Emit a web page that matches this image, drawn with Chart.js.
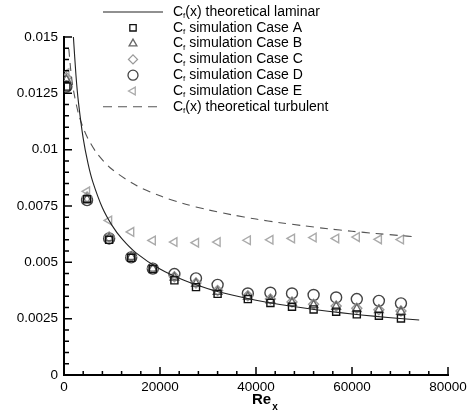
<!DOCTYPE html>
<html>
<head>
<meta charset="utf-8">
<script src="https://cdn.jsdelivr.net/npm/chart.js@4/dist/chart.umd.min.js"></script>
<style>
  html, body { margin: 0; padding: 0; background: #fff; }
  #wrap { width: 473px; height: 414px; position: relative; }
</style>
</head>
<body>
<div id="wrap"><canvas id="myChart" width="473" height="414"></canvas></div>
<script>
// data
var reCases = [500, 4800, 9400, 14000, 18500, 23000, 27500, 32000, 38300, 43000, 47500, 52000, 56700, 61000, 65600, 70200];
var caseA = [0.0128, 0.0078, 0.0060, 0.0052, 0.0047, 0.0042, 0.0039, 0.0036, 0.00337, 0.0032, 0.00303, 0.00291, 0.00281, 0.00269, 0.00263, 0.00251];
var caseB = [0.0131, 0.0078, 0.00607, 0.00524, 0.00472, 0.00432, 0.00405, 0.00369, 0.00347, 0.00332, 0.0032, 0.0031, 0.00303, 0.00293, 0.00288, 0.00281];
var caseC = [0.0132, 0.0079, 0.00612, 0.00526, 0.00474, 0.00436, 0.00408, 0.00375, 0.00352, 0.00337, 0.00324, 0.00314, 0.00306, 0.00296, 0.0029, 0.00284];
var caseD = [0.0128, 0.00776, 0.00606, 0.00522, 0.00472, 0.00448, 0.00429, 0.0040, 0.00362, 0.00365, 0.00362, 0.00355, 0.00344, 0.00337, 0.00329, 0.00318];
var caseE = [0.0134, 0.00815, 0.00686, 0.00635, 0.00597, 0.0059, 0.00587, 0.0059, 0.00598, 0.006, 0.00606, 0.0061, 0.00606, 0.00612, 0.00602, 0.00601];

var reLam = [1960, 2500, 3000, 4000, 5000, 6000, 8000, 10000, 12000, 15000, 20000, 25000, 30000, 35000, 40000, 45000, 50000, 55000, 60000, 65000, 70000, 74000];
var cfLam = [0.015, 0.01328, 0.01212, 0.0105, 0.00939, 0.00857, 0.00742, 0.00664, 0.00606, 0.00542, 0.0047, 0.0042, 0.00383, 0.00355, 0.00332, 0.00313, 0.00297, 0.00283, 0.00271, 0.0026, 0.00251, 0.00244];
var reTurb = [1000, 1500, 2000, 3000, 4000, 5000, 7000, 10000, 15000, 20000, 25000, 30000, 35000, 40000, 45000, 50000, 55000, 60000, 65000, 70000, 73000];
var cfTurb = [0.01447, 0.01334, 0.0126, 0.01161, 0.01097, 0.01049, 0.0098, 0.00913, 0.00842, 0.00795, 0.0076, 0.00733, 0.00711, 0.00692, 0.00676, 0.00662, 0.00649, 0.00638, 0.00628, 0.00619, 0.00614];

var xTicks = [0, 20000, 40000, 60000, 80000];
var yTicks = [0, 0.0025, 0.005, 0.0075, 0.01, 0.0125, 0.015];

function pts(xs, ys) {
  var out = [];
  for (var i = 0; i < xs.length; i++) out.push({x: xs[i], y: ys[i]});
  return out;
}

var FONT = "'Liberation Sans', Arial, Helvetica, sans-serif";

var markerSets = [
  {label: 'A', data: caseA, style: 'rect', color: '#111', radius: 5, rot: 0},
  {label: 'B', data: caseB, style: 'triangle', color: '#666', radius: 5, rot: 0},
  {label: 'C', data: caseC, style: 'rectRot', color: '#999', radius: 5, rot: 0},
  {label: 'D', data: caseD, style: 'circle', color: '#444', radius: 5.5, rot: 0},
  {label: 'E', data: caseE, style: 'triangle', color: '#aaa', radius: 5, rot: -90}
];

var datasets = [
  {label: 'laminar', data: pts(reLam, cfLam), showLine: true, borderColor: '#222', borderWidth: 1.1, pointRadius: 0, fill: false, tension: 0.3},
  {label: 'turbulent', data: pts(reTurb, cfTurb), showLine: true, borderColor: '#555', borderWidth: 1.1, borderDash: [8, 6], pointRadius: 0, fill: false, tension: 0.3}
];
markerSets.forEach(function (m) {
  datasets.push({
    label: m.label, data: pts(reCases, m.data), showLine: false,
    pointStyle: m.style, pointRadius: m.radius, pointRotation: m.rot,
    pointBorderColor: m.color, pointBackgroundColor: 'rgba(0,0,0,0)', pointBorderWidth: 1.4
  });
});

var legendRows = [
  {kind: 'line', dash: [], color: '#222', text: '(x) theoretical laminar'},
  {kind: 'mark', m: markerSets[0], text: ' simulation Case A'},
  {kind: 'mark', m: markerSets[1], text: ' simulation Case B'},
  {kind: 'mark', m: markerSets[2], text: ' simulation Case C'},
  {kind: 'mark', m: markerSets[3], text: ' simulation Case D'},
  {kind: 'mark', m: markerSets[4], text: ' simulation Case E'},
  {kind: 'line', dash: [9, 6], color: '#555', text: '(x) theoretical turbulent'}
];

var decor = {
  id: 'decor',
  afterDraw: function (chart) {
    var ctx = chart.ctx, xs = chart.scales.x, ys = chart.scales.y;
    var a = chart.chartArea;
    ctx.save();
    ctx.strokeStyle = '#000';
    // inward ticks
    ctx.lineWidth = 1.5;
    ctx.beginPath();
    for (var v = 0; v <= 80000; v += 4000) {
      var px = xs.getPixelForValue(v);
      var len = (v % 20000 === 0) ? 8 : 4;
      ctx.moveTo(px, a.bottom); ctx.lineTo(px, a.bottom - len);
    }
    for (var k = 0; k <= 30; k++) {
      var py = ys.getPixelForValue(k * 0.0005);
      var l2 = (k % 5 === 0) ? 8 : 5;
      ctx.moveTo(a.left, py); ctx.lineTo(a.left + l2, py);
    }
    ctx.stroke();

    // axis title Re_x
    ctx.fillStyle = '#000';
    ctx.textBaseline = 'alphabetic';
    ctx.textAlign = 'left';
    ctx.font = 'bold 15px ' + FONT;
    ctx.fillText('Re', 252, 404);
    var w = ctx.measureText('Re').width;
    ctx.font = 'bold 10px ' + FONT;
    ctx.fillText('x', 252 + w + 1, 410);

    // legend
    var y0 = 12, dy = 15.8;
    legendRows.forEach(function (r, i) {
      var y = y0 + i * dy;
      if (r.kind === 'line') {
        ctx.save();
        ctx.strokeStyle = r.color; ctx.lineWidth = 1.1; ctx.setLineDash(r.dash);
        ctx.beginPath(); ctx.moveTo(103, y); ctx.lineTo(163, y); ctx.stroke();
        ctx.restore();
      } else {
        ctx.save();
        ctx.strokeStyle = r.m.color; ctx.fillStyle = 'rgba(0,0,0,0)'; ctx.lineWidth = 1.3;
        Chart.helpers.drawPoint(ctx, {pointStyle: r.m.style, radius: r.m.radius - 0.5, rotation: r.m.rot, borderWidth: 1.3}, 133, y);
        ctx.restore();
      }
      ctx.fillStyle = '#000';
      ctx.textBaseline = 'middle';
      ctx.font = '14px ' + FONT;
      var tx = 173;
      ctx.fillText('C', tx, y);
      tx += ctx.measureText('C').width;
      ctx.font = '8px ' + FONT;
      ctx.fillText('f', tx, y + 4);
      tx += ctx.measureText('f').width;
      ctx.font = '14px ' + FONT;
      ctx.fillText(r.text, tx, y);
    });
    ctx.restore();
  }
};

var ctx = document.getElementById('myChart');
var chart = new Chart(ctx, {
  type: 'scatter',
  data: {datasets: datasets},
  plugins: [decor],
  options: {
    responsive: false,
    animation: false,
    layout: {padding: {top: 37, right: 25, left: 0, bottom: 0}},
    plugins: {legend: {display: false}, tooltip: {enabled: false}},
    scales: {
      x: {
        type: 'linear', min: 0, max: 80000,
        afterBuildTicks: function (s) { s.ticks = xTicks.map(function (v) { return {value: v}; }); },
        afterFit: function (s) { s.height = 39; },
        ticks: {color: '#000', font: {family: FONT, size: 13.5}, padding: 4, maxRotation: 0, callback: function (v) { return String(v); }},
        grid: {display: false, drawTicks: false},
        border: {display: true, color: '#000', width: 2}
      },
      y: {
        type: 'linear', min: 0, max: 0.015,
        afterBuildTicks: function (s) { s.ticks = yTicks.map(function (v) { return {value: v}; }); },
        afterFit: function (s) { s.width = 64; },
        ticks: {color: '#000', font: {family: FONT, size: 13.5}, padding: 6, callback: function (v) { return String(+v.toFixed(4)); }},
        grid: {display: false, drawTicks: false},
        border: {display: true, color: '#000', width: 2}
      }
    }
  }
});
</script>
</body>
</html>
